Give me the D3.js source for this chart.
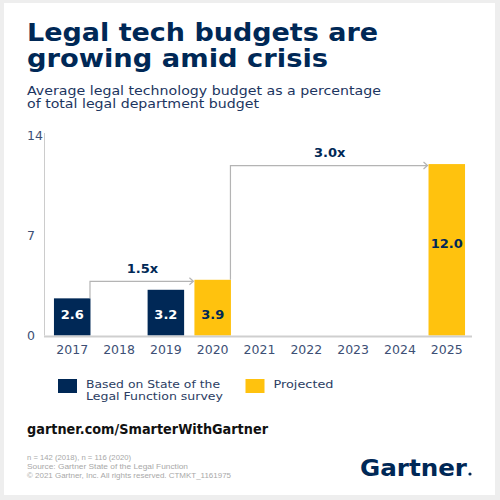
<!DOCTYPE html>
<meta charset="utf-8">
<style>
body { margin: 0; background: #eeeeee; }
svg { display: block; font-family: "DejaVu Sans", sans-serif; }
.tick-label { fill: #3d4f75; font-size: 12.5px; }
.year { fill: #3d4f75; font-size: 12.5px; }
.bar-label { font-size: 13px; font-weight: bold; }
.growth { fill: #002856; font-size: 13px; font-weight: bold; }
.legend { fill: #2b3d63; font-size: 11px; }
.foot { fill: #a8a8a8; font-size: 7.6px; font-family: "Liberation Sans", sans-serif; }
</style>
<svg id="chart" width="500" height="500"></svg>
<script src="https://cdn.jsdelivr.net/npm/d3@7"></script>
<script>

// data
var years = ["2017", "2018", "2019", "2020", "2021", "2022", "2023", "2024", "2025"];
var values = [2.6, null, 3.2, 3.9, null, null, null, null, 12.0];
var kinds = ["survey", null, "survey", "projected", null, null, null, null, "projected"];
var yTicks = [0, 7, 14];
var growth = [
  {from: "2017", to: "2020", label: "1.5x"},
  {from: "2020", to: "2025", label: "3.0x"}
];
var legendItems = [
  {kind: "survey", lines: ["Based on State of the", "Legal Function survey"], widths: [134, 137]},
  {kind: "projected", lines: ["Projected"], widths: [60]}
];
var footnotes = [
  "n = 142 (2018), n = 116 (2020)",
  "Source: Gartner State of the Legal Function",
  "\u00a9 2021 Gartner, Inc. All rights reserved. CTMKT_1161975"
];
var footWidths = [104, 161, 204];

var navy = "#002856";
var yellow = "#ffc20e";
var colors = {survey: navy, projected: yellow};

var svg = d3.select("#chart");

// white card on grey
svg.append("rect")
    .attr("x", 4).attr("y", 3)
    .attr("width", 491).attr("height", 492)
    .attr("fill", "#fff");

// title + subtitle
var title = svg.append("g").attr("fill", navy).style("font-weight", "bold").style("font-size", "24px");
title.append("text").attr("x", 27).attr("y", 41)
    .attr("textLength", 351).attr("lengthAdjust", "spacingAndGlyphs")
    .text("Legal tech budgets are");
title.append("text").attr("x", 27).attr("y", 67)
    .attr("textLength", 301).attr("lengthAdjust", "spacingAndGlyphs")
    .text("growing amid crisis");

var sub = svg.append("g").attr("fill", "#1c3560").style("font-size", "12.5px").style("font-weight", 500);
sub.append("text").attr("x", 27).attr("y", 94.5)
    .attr("textLength", 354).attr("lengthAdjust", "spacingAndGlyphs")
    .text("Average legal technology budget as a percentage");
sub.append("text").attr("x", 27).attr("y", 108)
    .attr("textLength", 232).attr("lengthAdjust", "spacingAndGlyphs")
    .text("of total legal department budget");

// scales
var x = d3.scaleBand()
    .domain(years)
    .range([46, 473])
    .paddingInner(0.22)
    .paddingOuter(0.17);

var y = d3.scaleLinear()
    .domain([0, 14])
    .range([335.5, 135.5]);

// axes lines
svg.append("line")
    .attr("x1", 44.5).attr("x2", 44.5)
    .attr("y1", 133).attr("y2", y(0))
    .attr("stroke", "#cccccc").attr("stroke-width", 1);

svg.append("g").selectAll("text")
    .data(yTicks)
    .enter().append("text")
    .attr("class", "tick-label")
    .attr("x", 27)
    .attr("y", function(d) { return y(d) + 4.5; })
    .text(function(d) { return d; });

// bars
var barData = years.map(function(yr, i) { return {year: yr, value: values[i], kind: kinds[i]}; })
    .filter(function(d) { return d.value != null; });

svg.append("g").selectAll("rect")
    .data(barData)
    .enter().append("rect")
    .attr("x", function(d) { return x(d.year); })
    .attr("y", function(d) { return y(d.value); })
    .attr("width", x.bandwidth())
    .attr("height", function(d) { return y(0) - y(d.value); })
    .attr("fill", function(d) { return colors[d.kind]; });

svg.append("g").selectAll("text")
    .data(barData)
    .enter().append("text")
    .attr("class", "bar-label")
    .attr("x", function(d) { return x(d.year) + x.bandwidth() / 2; })
    .attr("y", function(d) { return d.value > 6 ? y(d.value / 2) - 1.5 : y(0) - 17; })
    .attr("text-anchor", "middle")
    .attr("fill", function(d) { return d.kind === "survey" ? "#fff" : navy; })
    .text(function(d) { return d.value.toFixed(1); });

// baseline
svg.append("line")
    .attr("x1", 44).attr("x2", 472)
    .attr("y1", y(0) + 1).attr("y2", y(0) + 1)
    .attr("stroke", "#cfcfcf").attr("stroke-width", 2);

// year labels
svg.append("g").selectAll("text")
    .data(years)
    .enter().append("text")
    .attr("class", "year")
    .attr("x", function(d) { return x(d) + x.bandwidth() / 2; })
    .attr("y", 354)
    .attr("text-anchor", "middle")
    .text(function(d) { return d; });

// growth arrows
function valueOf(yr) { return values[years.indexOf(yr)]; }

var g = svg.append("g").selectAll("g")
    .data(growth)
    .enter().append("g");

g.append("path")
    .attr("fill", "none")
    .attr("stroke", "#b4b4b4")
    .attr("stroke-width", 1.2)
    .attr("d", function(d) {
      var x0 = x(d.from) + x.bandwidth() - 0.5;
      var y0 = y(valueOf(d.from));
      var y1 = y(valueOf(d.to)) + 1.5;
      var x1 = x(d.to) - 1;
      return "M" + x0 + "," + y0 + "V" + y1 + "H" + x1 +
             "M" + (x1 - 4) + "," + (y1 - 3.5) + "L" + x1 + "," + y1 + "L" + (x1 - 4) + "," + (y1 + 3.5);
    });

g.append("text")
    .attr("class", "growth")
    .attr("x", function(d) { return (x(d.from) + x.bandwidth() + x(d.to)) / 2; })
    .attr("y", function(d) { return y(valueOf(d.to)) - 7; })
    .attr("text-anchor", "middle")
    .text(function(d) { return d.label; });

// legend
var lg = svg.append("g").selectAll("g")
    .data(legendItems)
    .enter().append("g")
    .attr("transform", function(d, i) { return "translate(" + (58 + i * 187.5) + ",379)"; });

lg.append("rect")
    .attr("width", 19).attr("height", 14)
    .attr("fill", function(d) { return colors[d.kind]; });

lg.each(function(d) {
  d3.select(this).selectAll("text.legend")
      .data(d.lines)
      .enter().append("text")
      .attr("class", "legend")
      .attr("x", 28)
      .attr("y", function(t, i) { return 8.5 + i * 12.8; })
      .attr("textLength", function(t, i) { return d.widths[i]; })
      .attr("lengthAdjust", "spacingAndGlyphs")
      .text(function(t) { return t; });
});

// link
svg.append("text")
    .attr("x", 27).attr("y", 434)
    .attr("fill", "#111")
    .style("font-size", "14.5px").style("font-weight", "bold")
    .attr("textLength", 241).attr("lengthAdjust", "spacingAndGlyphs")
    .text("gartner.com/SmarterWithGartner");

// footnotes
svg.append("g").selectAll("text")
    .data(footnotes)
    .enter().append("text")
    .attr("class", "foot")
    .attr("x", 27)
    .attr("y", function(d, i) { return 460 + i * 9.2; })
    .attr("textLength", function(d, i) { return footWidths[i]; })
    .attr("lengthAdjust", "spacingAndGlyphs")
    .text(function(d) { return d; });

// logo
svg.append("text")
    .attr("x", 360).attr("y", 475.5)
    .attr("fill", navy)
    .style("font-size", "22.5px").style("font-weight", "bold")
    .attr("textLength", 107).attr("lengthAdjust", "spacingAndGlyphs")
    .text("Gartner");
svg.append("circle")
    .attr("cx", 470).attr("cy", 474).attr("r", 1.6)
    .attr("fill", navy);

</script>
